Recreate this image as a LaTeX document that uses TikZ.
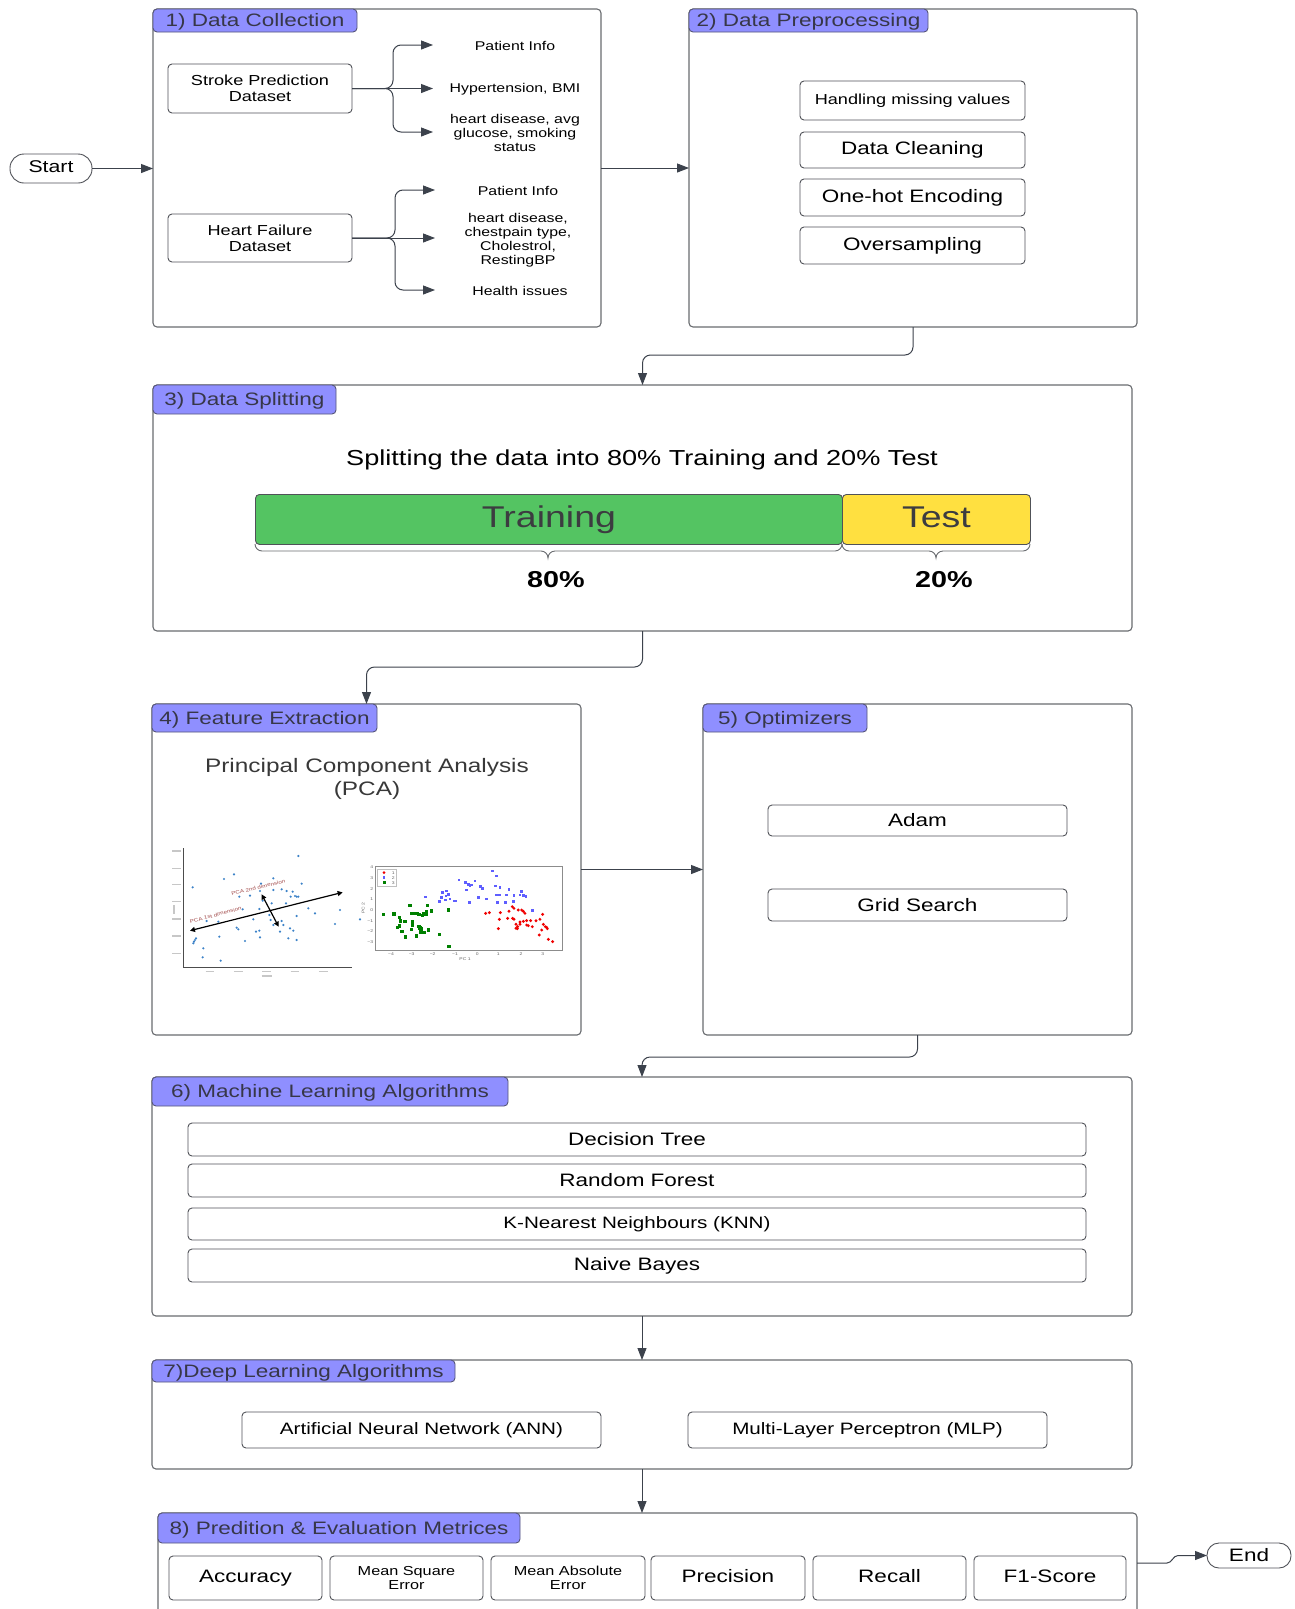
\documentclass[tikz,border=0pt]{standalone}
\usepackage{fontspec}
\setmainfont{Liberation Sans}[FakeStretch=1.25]
\usetikzlibrary{arrows.meta}
\definecolor{boxgray}{RGB}{105,108,112}
\definecolor{innergray}{RGB}{80,82,88}
\definecolor{tabfill}{RGB}{143,143,255}
\definecolor{tabline}{RGB}{85,85,120}
\definecolor{tabtext}{RGB}{55,55,72}
\definecolor{arrowc}{RGB}{60,66,76}
\definecolor{traingreen}{RGB}{84,196,98}
\definecolor{testyellow}{RGB}{255,224,64}
\definecolor{bartext}{RGB}{60,60,64}
\definecolor{pcared}{RGB}{165,80,80}
\definecolor{mplblue}{RGB}{60,130,200}
\definecolor{ptblue}{RGB}{40,40,255}
\definecolor{ptred}{RGB}{240,0,0}
\definecolor{ptgreen}{RGB}{0,128,0}
\newcommand\fz[2]{\fontsize{#1}{#2}\selectfont}
\begin{document}
\begin{tikzpicture}[x=1pt,y=-1pt,
  panel/.style={draw=boxgray, line width=1.1pt, rounded corners=4pt, anchor=north west, inner sep=0pt, outer sep=0pt},
  tab/.style={draw=tabline, fill=tabfill, line width=0.9pt, rounded corners=4pt, anchor=north west, inner sep=0pt, outer sep=0pt, text=tabtext, font=\fz{18}{21}, text height=15.5pt, text depth=3.5pt},
  ibox/.style={draw=innergray, line width=0.9pt, rounded corners=4pt, inner sep=0pt, outer sep=0pt, align=center, fill=white},
  lbl/.style={align=center, inner sep=0pt},
  arr/.style={draw=arrowc, line width=1pt, -{Triangle[length=12pt,width=9pt]}},
  oval/.style={draw=innergray, line width=0.9pt, inner sep=0pt, outer sep=0pt},
  tiny/.style={font=\fz{4}{5}, text=black!60, inner sep=0pt},
  blob/.style={draw=black!22, line width=1.1pt},
]
\fill[white] (0,0) rectangle (1294,1609);
\useasboundingbox (0,0) rectangle (1294,1609);

% ---------- Start ----------
\node[oval, rounded corners=14pt, minimum width=82pt, minimum height=29pt, font=\fz{17}{20}, text height=11pt, text depth=3pt] (start) at (51,168.5) {Start};

% ---------- Panel 1 ----------
\node[panel, minimum width=448pt, minimum height=318pt] (p1) at (153,9) {};
\node[tab, minimum width=204pt, minimum height=23pt] (t1) at (153,9) {1) Data Collection};
\node[ibox, minimum width=184pt, minimum height=49pt, font=\fz{14.5}{16}] (spd) at (260,88.5) {Stroke Prediction\\Dataset};
\node[ibox, minimum width=184pt, minimum height=48pt, font=\fz{14.5}{16}] (hfd) at (260,238) {Heart Failure\\Dataset};
\node[lbl, font=\fz{12.7}{14}] (s1) at (515,46) {Patient Info};
\node[lbl, font=\fz{12.7}{14}] (s2) at (515,89) {Hypertension, BMI};
\node[lbl, font=\fz{12.7}{14}] (s3) at (515,133) {heart disease, avg\\glucose, smoking\\status};
\node[lbl, font=\fz{12.7}{14}] (h1) at (518,191) {Patient Info};
\node[lbl, font=\fz{12.7}{14}] (h2) at (518,240) {heart disease,\\chestpain type,\\Cholestrol,\\RestingBP};
\node[lbl, font=\fz{12.7}{14}] (h3) at (520,291) {Health issues};
\coordinate (sj) at (393,88.5);
\coordinate (s1a) at (433,45);
\coordinate (s2a) at (433,88.5);
\coordinate (s3a) at (433,132);
\coordinate (hj) at (395,238);
\coordinate (h1a) at (435,190);
\coordinate (h2a) at (435,238);
\coordinate (h3a) at (435,290);
\draw[arr, rounded corners=8pt] (spd.east) -- (sj) |- (s1a);
\draw[arr] (spd.east) -- (s2a);
\draw[arr, rounded corners=8pt] (spd.east) -- (sj) |- (s3a);
\draw[arr, rounded corners=8pt] (hfd.east) -- (hj) |- (h1a);
\draw[arr] (hfd.east) -- (h2a);
\draw[arr, rounded corners=8pt] (hfd.east) -- (hj) |- (h3a);

% ---------- Panel 2 ----------
\node[panel, minimum width=448pt, minimum height=318pt] (p2) at (689,9) {};
\node[tab, minimum width=239pt, minimum height=23pt] (t2) at (689,9) {2) Data Preprocessing};
\node[ibox, minimum width=225pt, minimum height=39pt, font=\fz{14.5}{16}] (hmv) at (912.5,100.5) {Handling missing values};
\node[ibox, minimum width=225pt, minimum height=36pt, font=\fz{18}{21}] (dcl) at (912.5,150) {Data Cleaning};
\node[ibox, minimum width=225pt, minimum height=37pt, font=\fz{18}{21}] (ohe) at (912.5,197.5) {One-hot Encoding};
\node[ibox, minimum width=225pt, minimum height=37pt, font=\fz{18}{21}] (ovs) at (912.5,245.5) {Oversampling};

\draw[arr] (start.east) -- (p1.west |- start.east);
\draw[arr] (p1.east) -- (p2.west);

% ---------- Panel 3 ----------
\node[panel, minimum width=979pt, minimum height=246pt] (p3) at (153,385) {};
\node[tab, minimum width=183pt, minimum height=29pt] (t3) at (153,385) {3) Data Splitting};
\draw[arr, rounded corners=8pt] (p2.south) -- ++(0,28) -| (p3.north);
\node[lbl, font=\fz{21.7}{25}] (splt) at (642,460) {Splitting the data into 80\% Training and 20\% Test};
\node[draw=innergray, line width=0.9pt, fill=traingreen, rounded corners=4pt, minimum width=587pt, minimum height=50pt, anchor=north west, inner sep=0pt, text=bartext, font=\fz{30}{34}] (train) at (255,494) {Training};
\node[draw=innergray, line width=0.9pt, fill=testyellow, rounded corners=4pt, minimum width=188pt, minimum height=50pt, anchor=north west, inner sep=0pt, text=bartext, font=\fz{30}{34}, text height=22pt, text depth=6pt] (test) at (842,494) {Test};
\draw[boxgray, line width=0.9pt] (255,544) to[out=-90,in=180] (262,551) -- (541,551) to[out=0,in=90] (548,558) to[out=90,in=180] (555,551) -- (835,551) to[out=0,in=-90] (842,544);
\draw[boxgray, line width=0.9pt] (842,544) to[out=-90,in=180] (849,551) -- (929,551) to[out=0,in=90] (936,558) to[out=90,in=180] (943,551) -- (1023,551) to[out=0,in=-90] (1030,544);
\node[lbl, font=\fz{23}{26}\bfseries] (p80) at (556,580) {80\%};
\node[lbl, font=\fz{23}{26}\bfseries] (p20) at (944,580) {20\%};

% ---------- Panel 4 ----------
\node[panel, minimum width=429pt, minimum height=331pt] (p4) at (152,704) {};
\node[tab, minimum width=225pt, minimum height=28pt] (t4) at (152,704) {4) Feature Extraction};
\draw[arr, rounded corners=8pt] (p3.south) -- ++(0,36) -| (p4.north);
\node[lbl, font=\fz{19.5}{23}, text=black!78] (pca) at (367,779) {Principal Component Analysis\\(PCA)};

% left plot
\begin{scope}[shift={(160,840)}, x=0.3333pt, y=-0.3333pt]
  \foreach \yy in {33,85,133,185,237,288,340} \draw[blob] (36,\yy) -- (62,\yy);
  \foreach \xx in {150,235,320,405,490} \draw[blob] (\xx-13,395) -- (\xx+13,395);
  \draw[blob] (305,408) -- (335,408);
  \draw[blob] (42,195) -- (42,222);
  \draw[black!70, line width=0.6pt] (70,25) -- (70,382) -- (575,382);
  \foreach \px/\py in {415/48,222/103,192/117,98/142,340/115,303/131,425/131,340/150,365/148,380/153,398/155,270/167,238/170,300/153,392/170,405/168,410/170,415/170,378/190,335/190,248/208,298/207,465/220,540/210,328/225,332/240,280/238,140/243,175/245,365/243,370/255,340/255,230/263,390/265,400/272,288/275,298/272,360/275,178/290,300/292,385/295,410/300,255/303,108/295,105/300,102/305,100/310,130/325,128/352,182/362,235/268,600/238,525/252,410/228,445/205,308/182}
    \fill[mplblue] (\px,\py) circle (1.2pt);
  \draw[black, line width=1.2pt, {Triangle[length=5pt,width=5pt]}-{Triangle[length=5pt,width=5pt]}] (90,272) -- (548,157);
  \draw[black, line width=1.2pt, {Triangle[length=5pt,width=5pt]}-{Triangle[length=5pt,width=5pt]}] (305,163) -- (356,260);
  \node[rotate=14.5, text=pcared, font=\fz{5}{6}, inner sep=0pt] (pl1) at (167,225) {PCA 1st dimension};
  \node[rotate=13.5, text=pcared, font=\fz{5}{6}, inner sep=0pt] (pl2) at (295,142) {PCA 2nd dimension};
\end{scope}

% right plot
\begin{scope}[shift={(360,860)}, x=0.3333pt, y=-0.3333pt]
  \draw[black!45, line width=0.6pt] (45,18) rectangle (607,270);
  \foreach \v/\yy in {4/22,3/55,2/87,1/118,0/150,−1/182,−2/213,−3/245}
    \node[tiny, anchor=east] at (40,\yy) {\v};
  \foreach \v/\xx in {−4/93,−3/155,−2/218,−1/285,0/352,1/415,2/483,3/548}
    \node[tiny] at (\xx,283) {\v};
  \node[tiny] (pc1) at (315,298) {PC 1};
  \node[tiny, rotate=90] (pc2) at (10,145) {PC 2};
  \foreach \px/\py in {398/33,410/48,297/60,316/68,345/63,407/78,420/82,330/78,325/73,335/75,362/80,367/85,360/78,447/88,485/95,480/105,320/90,260/93,247/97,266/104,258/108,245/112,238/124,256/120,270/117,282/123,286/123,196/111,355/112,380/117,410/105,418/105,440/105,462/106,490/107,498/110,328/128,413/128,436/128,460/125,517/152,519/152}
    \fill[ptblue!75] ([xshift=-1.4pt,yshift=-1.4pt]\px,\py) rectangle ++(2.8pt,2.8pt);
  \foreach \px/\py in {377/160,388/158,421/158,447/154,457/140,462/145,475/150,485/150,490/154,495/160,548/163,418/178,443/175,458/175,462/178,480/186,490/184,500/182,512/182,528/182,540/178,468/193,473/200,480/193,500/195,505/197,517/200,550/193,556/200,560/202,562/206,545/210,538/225,565/238,578/245,415/206,472/206,468/205}
    \fill[ptred] (\px,\py) circle (1.6pt);
  \foreach \px/\py in {70/163,102/162,118/173,121/183,118/198,135/185,150/136,155/160,160/160,166/160,172/160,177/164,188/166,198/162,200/154,202/137,214/153,190/160,158/186,158/196,155/208,113/203,126/214,137/231,170/228,177/200,180/204,184/205,183/216,193/218,206/210,238/224,266/150,267/260}
    \fill[ptgreen] ([xshift=-1.6pt,yshift=-1.6pt]\px,\py) rectangle ++(3.2pt,3.2pt);
  \draw[black!25, line width=0.5pt, fill=white] (52,28) rectangle (110,78);
  \fill[ptred] (72,38) circle (1.5pt);
  \fill[ptblue!75] ([xshift=-1.4pt,yshift=-1.4pt]72,53) rectangle ++(2.8pt,2.8pt);
  \fill[ptgreen] ([xshift=-1.5pt,yshift=-1.5pt]72,68) rectangle ++(3pt,3pt);
  \node[tiny] (lg1) at (100,38) {1};
  \node[tiny] (lg2) at (100,53) {2};
  \node[tiny] (lg3) at (100,68) {3};
\end{scope}

% ---------- Panel 5 ----------
\node[panel, minimum width=429pt, minimum height=331pt] (p5) at (703,704) {};
\node[tab, minimum width=164pt, minimum height=28pt] (t5) at (703,704) {5) Optimizers};
\draw[arr] (p4.east) -- (p5.west);
\node[ibox, minimum width=299pt, minimum height=31pt, font=\fz{18}{21}] (adam) at (917.5,820.5) {Adam};
\node[ibox, minimum width=299pt, minimum height=32pt, font=\fz{18}{21}] (grid) at (917.5,905) {Grid Search};

% ---------- Panel 6 ----------
\node[panel, minimum width=980pt, minimum height=239pt] (p6) at (152,1077) {};
\node[tab, minimum width=356pt, minimum height=29pt] (t6) at (152,1077) {6) Machine Learning Algorithms};
\draw[arr, rounded corners=8pt] (p5.south) -- ++(0,22) -| (p6.north);
\node[ibox, minimum width=898pt, minimum height=33pt, font=\fz{18}{21}] (dt) at (637,1139.5) {Decision Tree};
\node[ibox, minimum width=898pt, minimum height=33pt, font=\fz{18}{21}] (rf) at (637,1180.5) {Random Forest};
\node[ibox, minimum width=898pt, minimum height=32pt, font=\fz{16.5}{19}] (knn) at (637,1224) {K-Nearest Neighbours (KNN)};
\node[ibox, minimum width=898pt, minimum height=33pt, font=\fz{18}{21}] (nb) at (637,1265.5) {Naive Bayes};

% ---------- Panel 7 ----------
\node[panel, minimum width=980pt, minimum height=109pt] (p7) at (152,1360) {};
\node[tab, minimum width=303pt, minimum height=22pt] (t7) at (152,1360) {7)Deep Learning Algorithms};
\draw[arr] (p6.south) -- (p7.north);
\node[ibox, minimum width=359pt, minimum height=36pt, font=\fz{16.5}{19}] (ann) at (421.5,1430) {Artificial Neural Network (ANN)};
\node[ibox, minimum width=359pt, minimum height=36pt, font=\fz{16.5}{19}] (mlp) at (867.5,1430) {Multi-Layer Perceptron (MLP)};

% ---------- Panel 8 ----------
\draw[boxgray, line width=1.1pt, rounded corners=4pt] (158,1615) -- (158,1513) -- (1137,1513) -- (1137,1615);
\coordinate (p8n) at (642,1513);
\coordinate (p8e) at (1137,1563);
\node[tab, minimum width=362pt, minimum height=30pt] (t8) at (158,1513) {8) Predition \& Evaluation Metrices};
\draw[arr] (p7.south) -- (p8n);
\node[ibox, minimum width=153pt, minimum height=44pt, font=\fz{18}{21}] (acc) at (245.5,1578) {Accuracy};
\node[ibox, minimum width=153pt, minimum height=44pt, font=\fz{13}{14}] (mse) at (406.5,1578) {Mean Square\\Error};
\node[ibox, minimum width=154pt, minimum height=44pt, font=\fz{13}{14}] (mae) at (568,1578) {Mean Absolute\\Error};
\node[ibox, minimum width=154pt, minimum height=44pt, font=\fz{18}{21}, text height=13pt, text depth=4pt] (prec) at (728,1578) {Precision};
\node[ibox, minimum width=153pt, minimum height=44pt, font=\fz{18}{21}, text height=13pt, text depth=4pt] (rec) at (889.5,1578) {Recall};
\node[ibox, minimum width=152pt, minimum height=44pt, font=\fz{18}{21}, text height=13pt, text depth=4pt] (f1) at (1050,1578) {F1-Score};

% ---------- End ----------
\node[oval, rounded corners=12pt, minimum width=84pt, minimum height=25pt, font=\fz{18}{21}] (end) at (1249,1555.5) {End};
\draw[arr] (p8e) -- (1167,1563) to[out=0,in=180] (1178,1555.5) -- (end.west);
\end{tikzpicture}
\end{document}
